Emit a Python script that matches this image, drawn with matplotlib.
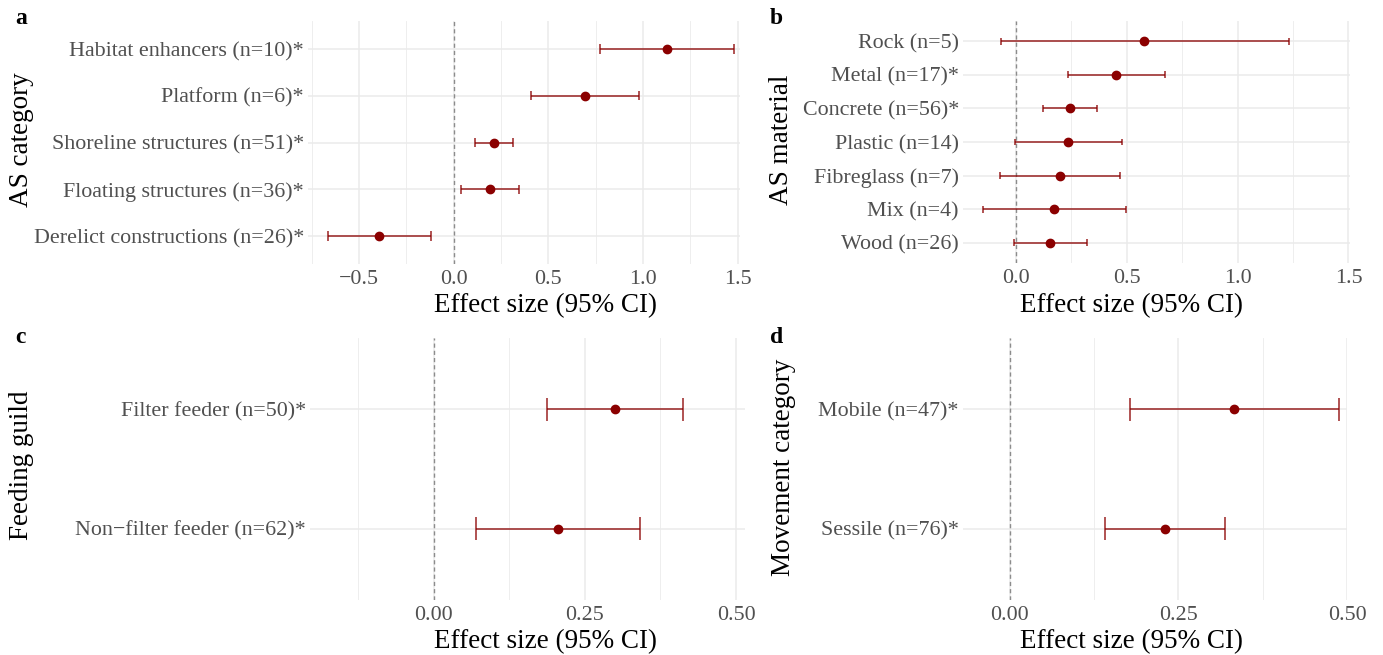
import matplotlib
matplotlib.use("Agg")
import matplotlib.pyplot as plt
import numpy as np
from matplotlib.ticker import FixedLocator, FuncFormatter

plt.rcParams['font.family'] = ['Liberation Serif', 'DejaVu Serif']
plt.rcParams['axes.unicode_minus'] = True

# ---------------- data (top to bottom as shown) ----------------
a_labels = ["Habitat enhancers (n=10)*", "Platform (n=6)*", "Shoreline structures (n=51)*",
            "Floating structures (n=36)*", "Derelict constructions (n=26)*"]
a_est = [1.127, 0.694, 0.213, 0.191, -0.396]
a_lo = [0.774, 0.410, 0.111, 0.038, -0.662]
a_hi = [1.482, 0.980, 0.316, 0.345, -0.118]

b_labels = ["Rock (n=5)", "Metal (n=17)*", "Concrete (n=56)*", "Plastic (n=14)",
            "Fibreglass (n=7)", "Mix (n=4)", "Wood (n=26)"]
b_est = [0.579, 0.450, 0.244, 0.233, 0.197, 0.173, 0.155]
b_lo = [-0.069, 0.236, 0.123, -0.005, -0.072, -0.150, -0.009]
b_hi = [1.232, 0.671, 0.364, 0.477, 0.469, 0.495, 0.319]

c_labels = ["Filter feeder (n=50)*", "Non\u2212filter feeder (n=62)*"]
c_est = [0.300, 0.205]
c_lo = [0.187, 0.070]
c_hi = [0.412, 0.342]

d_labels = ["Mobile (n=47)*", "Sessile (n=76)*"]
d_est = [0.333, 0.230]
d_lo = [0.179, 0.141]
d_hi = [0.488, 0.319]

W, H = 1383, 655
fig = plt.figure(figsize=(W / 100, H / 100), dpi=100)

POINT = '#8B0000'
BAR = (139/255, 0, 0, 0.68)
GRID = '#EBEBEB'
TICKC = '#505050'


def px_axes(l, t, r, b):
    return fig.add_axes([l / W, 1 - b / H, (r - l) / W, (b - t) / H])


def panel(ax, labels, est, lo, hi, xlim, major, minor, fmt):
    n = len(labels)
    y = np.arange(n, 0, -1)
    ax.set_xlim(*xlim)
    ax.set_ylim(0.4, n + 0.6)
    for s in ax.spines.values():
        s.set_visible(False)
    ax.xaxis.set_major_locator(FixedLocator(major))
    ax.xaxis.set_minor_locator(FixedLocator(minor))
    ax.xaxis.set_major_formatter(FuncFormatter(lambda v, p: fmt.format(v).replace('-', '\u2212')))
    ax.set_yticks(y)
    ax.set_yticklabels(labels)
    ax.tick_params(axis='both', which='both', length=0, labelsize=15.8, labelcolor=TICKC)
    ax.tick_params(axis='x', pad=4)
    ax.tick_params(axis='y', pad=3)
    ax.grid(True, which='major', color=GRID, lw=1.1, zorder=0)
    ax.grid(True, which='minor', axis='x', color=GRID, lw=0.6, zorder=0)
    ax.set_axisbelow(True)
    ax.axvline(0, color='#8C8C8C', lw=1.0, ls=(0, (3, 2.2)), zorder=1)
    ax.hlines(y, lo, hi, color=BAR, lw=1.4, zorder=2)
    ax.vlines(lo, y - 0.1, y + 0.1, color=BAR, lw=1.4, zorder=2)
    ax.vlines(hi, y - 0.1, y + 0.1, color=BAR, lw=1.4, zorder=2)
    ax.plot(est, y, 'o', color=POINT, ms=6.0, zorder=3)


axa = px_axes(308, 21, 740, 264)
panel(axa, a_labels, a_est, a_lo, a_hi, (-0.769, 1.513),
      [-0.5, 0.0, 0.5, 1.0, 1.5], [-0.75, -0.25, 0.25, 0.75, 1.25], "{:.1f}")
axb = px_axes(963, 21, 1350, 263)
panel(axb, b_labels, b_est, b_lo, b_hi, (-0.239, 1.507),
      [0.0, 0.5, 1.0, 1.5], [0.25, 0.75, 1.25], "{:.1f}")
axc = px_axes(310, 338, 745, 600)
panel(axc, c_labels, c_est, c_lo, c_hi, (-0.205, 0.515),
      [0.0, 0.25, 0.5], [-0.125, 0.125, 0.375], "{:.2f}")
axd = px_axes(963, 338, 1347, 600)
panel(axd, d_labels, d_est, d_lo, d_hi, (-0.069, 0.50),
      [0.0, 0.25, 0.5], [0.125, 0.375], "{:.2f}")

# axis titles
XL = dict(fontsize=19.5, ha='center', va='center', color='black')
fig.text(546 / W, 1 - 306 / H, "Effect size (95% CI)", **XL)
fig.text(1131 / W, 1 - 306 / H, "Effect size (95% CI)", **XL)
fig.text(546 / W, 1 - 642 / H, "Effect size (95% CI)", **XL)
fig.text(1131 / W, 1 - 642 / H, "Effect size (95% CI)", **XL)

YL = dict(fontsize=19.5, ha='center', va='center', rotation=90, color='black')
fig.text(22 / W, 1 - 140 / H, "AS category", **YL)
fig.text(782 / W, 1 - 140 / H, "AS material", **YL)
fig.text(22 / W, 1 - 465 / H, "Feeding guild", **YL)
fig.text(783 / W, 1 - 467 / H, "Movement category", **YL)

# panel letters
PL = dict(fontsize=17, fontweight='bold', ha='left', va='center', color='black')
fig.text(15 / W, 1 - 19 / H, "a", **PL)
fig.text(770 / W, 1 - 19 / H, "b", **PL)
fig.text(15 / W, 1 - 338 / H, "c", **PL)
fig.text(770 / W, 1 - 338 / H, "d", **PL)

fig.savefig("out.png", dpi=100, facecolor='white')
